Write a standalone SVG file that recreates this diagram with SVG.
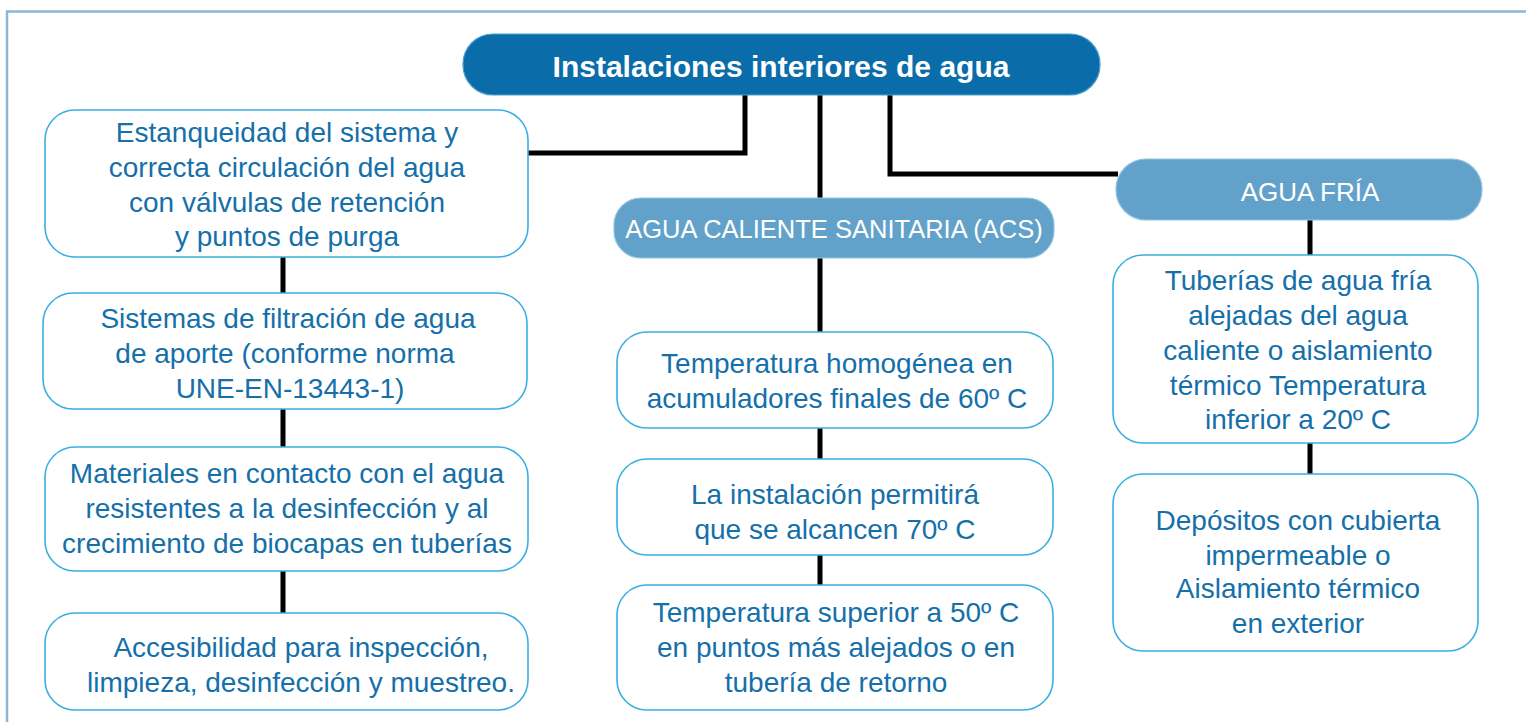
<svg xmlns="http://www.w3.org/2000/svg" width="1526" height="722" viewBox="0 0 1526 722">
<style>
  .frame{fill:none;stroke:#8bb5d9;stroke-width:2.5}
  .box{fill:#fff;stroke:#3aaee2;stroke-width:1.6}
  .main{fill:#0a6ca9;stroke:#4d9fd0;stroke-width:1.2}
  .cat{fill:#62a2ca;stroke:#8fc4e4;stroke-width:1.2}
  .t{font-family:"Liberation Sans",Arial,sans-serif;font-size:28px;fill:#1570aa;text-anchor:middle}
  .tm{font-family:"Liberation Sans",Arial,sans-serif;font-size:30px;font-weight:bold;fill:#fff;text-anchor:middle}
  .tc{font-family:"Liberation Sans",Arial,sans-serif;font-size:25.5px;fill:#fff;text-anchor:middle}
  .c{fill:none;stroke:#000;stroke-width:5}
</style>
<rect width="1526" height="722" fill="#fff"/>
<path class="frame" d="M7,722 V11.5 H1526"/>
<g id="connectors">
  <path class="c" d="M745,95 V153 H528"/>
  <path class="c" d="M820,95 V199"/>
  <path class="c" d="M890,95 V174 H1118"/>
  <path class="c" d="M283,257 V293 M283,409 V449 M283,571 V613"/>
  <path class="c" d="M820,258 V332 M820,428 V459 M820,555 V585"/>
  <path class="c" d="M1310,220 V255 M1310,443 V474"/>
</g>
<g id="title">
  <rect class="main" x="463" y="34" width="637" height="61" rx="30"/>
  <text class="tm" x="781" y="77">Instalaciones interiores de agua</text>
</g>
<g id="left1">
  <rect class="box" x="45" y="110" width="483" height="147" rx="30"/>
  <text class="t" x="287" y="142">Estanqueidad del sistema y</text>
  <text class="t" x="287" y="177">correcta circulación del agua</text>
  <text class="t" x="287" y="212">con válvulas de retención</text>
  <text class="t" x="287" y="246">y puntos de purga</text>
</g>
<g id="left2">
  <rect class="box" x="43" y="293" width="484" height="116" rx="30"/>
  <text class="t" x="288" y="328">Sistemas de filtración de agua</text>
  <text class="t" x="285" y="363">de aporte (conforme norma</text>
  <text class="t" x="290" y="398">UNE-EN-13443-1)</text>
</g>
<g id="left3">
  <rect class="box" x="45" y="447" width="483" height="124" rx="30"/>
  <text class="t" x="287" y="483">Materiales en contacto con el agua</text>
  <text class="t" x="287" y="518">resistentes a la desinfección y al</text>
  <text class="t" x="287" y="553">crecimiento de biocapas en tuberías</text>
</g>
<g id="left4">
  <rect class="box" x="45" y="613" width="483" height="97" rx="30"/>
  <text class="t" x="301" y="657">Accesibilidad para inspección,</text>
  <text class="t" x="301" y="692">limpieza, desinfección y muestreo.</text>
</g>
<g id="acs">
  <rect class="cat" x="614" y="198" width="440" height="60" rx="27"/>
  <text class="tc" x="834" y="238">AGUA CALIENTE SANITARIA (ACS)</text>
</g>
<g id="acs1">
  <rect class="box" x="617" y="332" width="436" height="96" rx="30"/>
  <text class="t" x="837" y="373">Temperatura homogénea en</text>
  <text class="t" x="837" y="408">acumuladores finales de 60º C</text>
</g>
<g id="acs2">
  <rect class="box" x="617" y="459" width="436" height="96" rx="30"/>
  <text class="t" x="835" y="504">La instalación permitirá</text>
  <text class="t" x="835" y="539">que se alcancen 70º C</text>
</g>
<g id="acs3">
  <rect class="box" x="617" y="585" width="436" height="125" rx="30"/>
  <text class="t" x="836" y="622">Temperatura superior a 50º C</text>
  <text class="t" x="836" y="657">en puntos más alejados o en</text>
  <text class="t" x="836" y="692">tubería de retorno</text>
</g>
<g id="fria">
  <rect class="cat" x="1116" y="159" width="366" height="61" rx="30"/>
  <text class="tc" x="1310" y="201" style="font-size:26px">AGUA FRÍA</text>
</g>
<g id="fria1">
  <rect class="box" x="1113" y="255" width="365" height="188" rx="30"/>
  <text class="t" x="1298" y="290">Tuberías de agua fría</text>
  <text class="t" x="1298" y="325">alejadas del agua</text>
  <text class="t" x="1298" y="360">caliente o aislamiento</text>
  <text class="t" x="1298" y="395">térmico Temperatura</text>
  <text class="t" x="1298" y="429">inferior a 20º C</text>
</g>
<g id="fria2">
  <rect class="box" x="1113" y="474" width="365" height="177" rx="30"/>
  <text class="t" x="1298" y="530">Depósitos con cubierta</text>
  <text class="t" x="1298" y="565">impermeable o</text>
  <text class="t" x="1298" y="598">Aislamiento térmico</text>
  <text class="t" x="1298" y="633">en exterior</text>
</g>
</svg>
